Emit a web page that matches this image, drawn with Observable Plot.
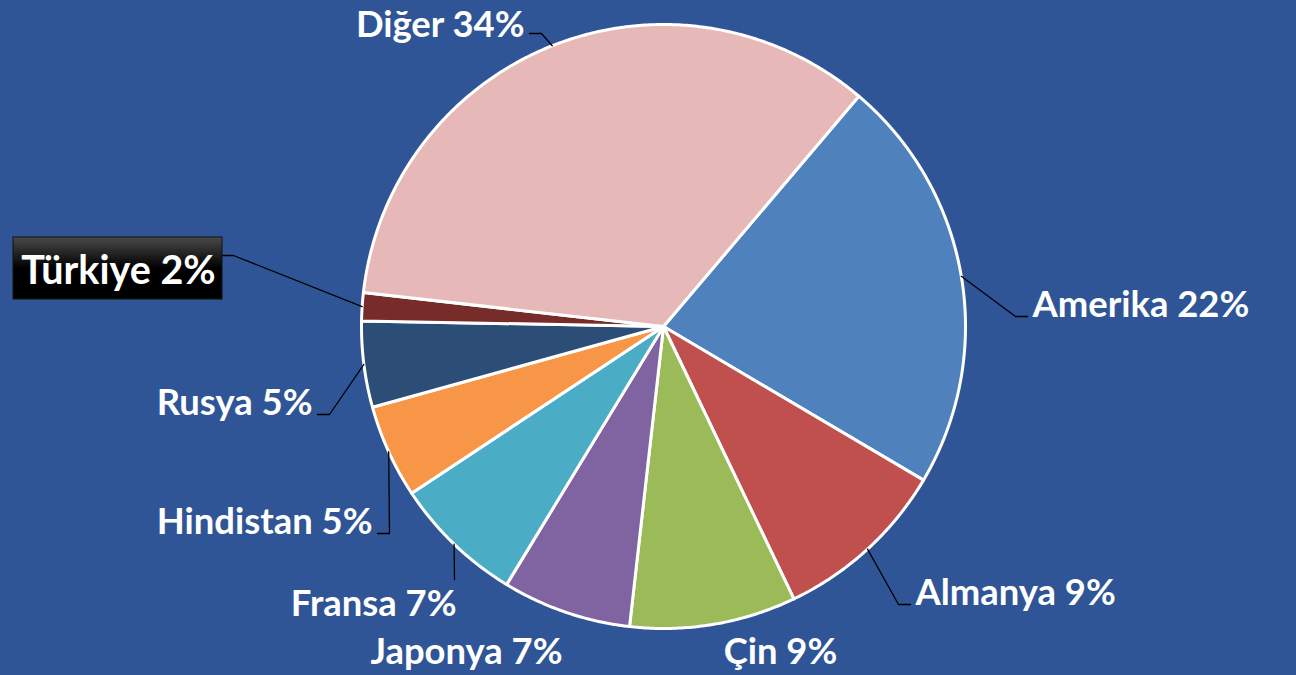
<!DOCTYPE html>
<html><head><meta charset="utf-8">
<script src="https://cdn.jsdelivr.net/npm/d3@7"></script>
<script src="https://cdn.jsdelivr.net/npm/@observablehq/plot@0.6"></script>
<style>html,body{margin:0;padding:0;background:#2F5597;overflow:hidden}</style>
</head><body><div id="chart"></div>
<script>
// ---- data ----
const countries = ["Amerika","Almanya","Çin","Japonya","Fransa","Hindistan","Rusya","Türkiye","Diğer"];
const shares    = [22.3, 9.4, 8.9, 6.9, 7.0, 5.0, 4.6, 1.5, 34.4];
const colors    = ["#4F81BD","#C0504D","#9BBB59","#8064A2","#4BACC6","#F79646","#2C4D75","#772C2A","#E6B9B8"];
const highlighted = "Türkiye";

// ---- layout (pixels relative to pie centre) ----
const W = 1296, H = 675, CX = 663, CY = 326, R = 302;
const startDeg = 40.3;
// elbow of leader, tail direction/length, text anchor point and alignment
const labelLayout = {
  "Amerika":   {elbow:[352,-10],  tail:12,  text:[369,-10],  anchor:"start"},
  "Almanya":   {elbow:[235,278],  tail:12,  text:[252,278],  anchor:"start"},
  "Çin":       {elbow:null,                 text:[117,337],  anchor:"middle"},
  "Japonya":   {elbow:null,                 text:[-197,337], anchor:"middle"},
  "Fransa":    {elbow:[-209,253], tail:0,   text:[-207,289], anchor:"end"},
  "Hindistan": {elbow:[-274,207], tail:-12, text:[-291,207], anchor:"end"},
  "Rusya":     {elbow:[-334,88],  tail:-12, text:[-351,88],  anchor:"end"},
  "Türkiye":   {elbow:[-430,-71], tail:-11, text:[-545,-43], anchor:"middle", box:[-650,-441,-89,-27]},
  "Diğer":     {elbow:[-122,-293],tail:-12, text:[-139,-290],anchor:"end"}
};

const total = d3.sum(shares);
const rad = d => d * Math.PI / 180;
const arcs = d3.pie().sort(null).value(d => d)
  .startAngle(rad(startDeg)).endAngle(rad(startDeg) + 2 * Math.PI)(shares);

// slice polygons
const slicePts = [];
arcs.forEach((a, i) => {
  const name = countries[i];
  slicePts.push({name, x: 0, y: 0});
  const n = Math.max(2, Math.ceil((a.endAngle - a.startAngle) / rad(0.5)));
  for (let k = 0; k <= n; k++) {
    const t = a.startAngle + (a.endAngle - a.startAngle) * k / n;
    slicePts.push({name, x: R * Math.sin(t), y: -R * Math.cos(t)});
  }
  slicePts.push({name, x: 0, y: 0});
});

// leader lines and labels
const leaderPts = [], labels = [];
arcs.forEach((a, i) => {
  const name = countries[i];
  const L = labelLayout[name];
  const m = (a.startAngle + a.endAngle) / 2;
  const txt = `${name} ${Math.round(shares[i] / total * 100)}%`;
  if (L.elbow) {
    leaderPts.push({name, x: R * Math.sin(m), y: -R * Math.cos(m)});
    leaderPts.push({name, x: L.elbow[0], y: L.elbow[1]});
    leaderPts.push({name, x: L.elbow[0] + L.tail, y: L.elbow[1]});
  }
  labels.push({name, x: L.text[0], y: L.text[1], text: txt, anchor: L.anchor});
});
const hl = labelLayout[highlighted];
const boxes = [{x1: hl.box[0], x2: hl.box[1], y1: hl.box[2], y2: hl.box[3]}];

const font = "Lato, 'Open Sans', sans-serif";
const normalLabels = labels.filter(d => d.name !== highlighted);

const defs = () => {
  const g = d3.create("svg:g");
  const lg = g.append("defs").append("linearGradient").attr("id", "tkGrad")
    .attr("x1", 0).attr("y1", 0).attr("x2", 0).attr("y2", 1);
  lg.append("stop").attr("offset", "0%").attr("stop-color", "#4a4a4a");
  lg.append("stop").attr("offset", "50%").attr("stop-color", "#000");
  lg.append("stop").attr("offset", "100%").attr("stop-color", "#000");
  return g.node();
};

const chart = Plot.plot({
  width: W, height: H, margin: 0,
  style: {background: "#2F5597", fontFamily: font},
  x: {domain: [-CX, W - CX], range: [0, W], axis: null},
  y: {domain: [-CY, H - CY], range: [0, H], axis: null},
  color: {domain: countries, range: colors},
  marks: [
    defs,
    Plot.line(slicePts, {x: "x", y: "y", z: "name", fill: "name", stroke: "white", strokeWidth: 3, strokeLinejoin: "round"}),
    Plot.line(leaderPts, {x: "x", y: "y", z: "name", stroke: "black", strokeWidth: 1.3}),
    Plot.rect(boxes, {x1: "x1", x2: "x2", y1: "y1", y2: "y2", fill: "url(#tkGrad)", stroke: "#111", strokeWidth: 1}),
    ...["start", "end", "middle"].map(anc => Plot.text(normalLabels.filter(d => d.anchor === anc), {
      x: "x", y: "y", text: "text", textAnchor: anc, lineAnchor: "bottom",
      fill: "white", fontSize: 36.4, fontWeight: "bold", fontFamily: font})),
    Plot.text(labels.filter(d => d.name === highlighted), {
      x: "x", y: "y", text: "text", textAnchor: "middle", lineAnchor: "bottom",
      fill: "white", fontSize: 39.5, fontWeight: "bold", fontFamily: font})
  ]
});
document.getElementById("chart").appendChild(chart);
</script></body></html>
